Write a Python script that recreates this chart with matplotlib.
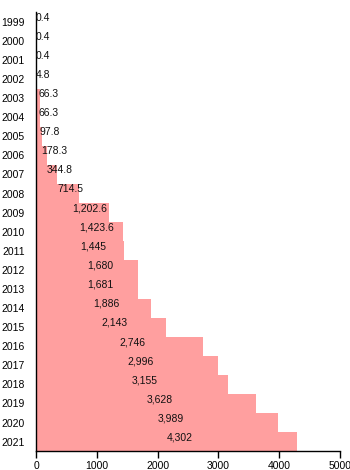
import matplotlib.pyplot as plt

plt.rcParams['font.family'] = ['Liberation Sans', 'DejaVu Sans']

years = list(range(1999, 2022))
values = [0.4, 0.4, 0.4, 4.8, 66.3, 66.3, 97.8, 178.3, 344.8, 714.5,
          1202.6, 1423.6, 1445, 1680, 1681, 1886, 2143, 2746, 2996,
          3155, 3628, 3989, 4302]
labels = ['0.4', '0.4', '0.4', '4.8', '66.3', '66.3', '97.8', '178.3',
          '344.8', '714.5', '1,202.6', '1,423.6', '1,445', '1,680',
          '1,681', '1,886', '2,143', '2,746', '2,996', '3,155', '3,628',
          '3,989', '4,302']

fig = plt.figure(figsize=(3.5, 4.7), dpi=100)
ax = fig.add_axes([0.103, 0.040, 0.868, 0.934])

pos = list(range(len(years)))
ax.barh(pos, values, height=1.0, color='#ff9f9f', linewidth=0)

# value text starts halfway along each bar
for p, v, t in zip(pos, values, labels):
    ax.annotate(t, (v / 2, p), xytext=(0, 3), textcoords='offset points',
                ha='left', va='center', fontsize=7.5, color='#111111')

ax.set_xlim(0, 5000)
ax.set_ylim(len(years) - 0.5, -0.5)
ax.set_xticks([0, 1000, 2000, 3000, 4000, 5000])
ax.set_yticks(pos)
ax.set_yticklabels([str(y) for y in years])
ax.tick_params(axis='y', length=0, pad=8, labelsize=7.5)
ax.tick_params(axis='x', length=5, width=1, labelsize=7.5, pad=2)
for s in ('top', 'right'):
    ax.spines[s].set_visible(False)
ax.spines['left'].set_linewidth(1)
ax.spines['bottom'].set_linewidth(1)

fig.savefig('out.png', dpi=100)
